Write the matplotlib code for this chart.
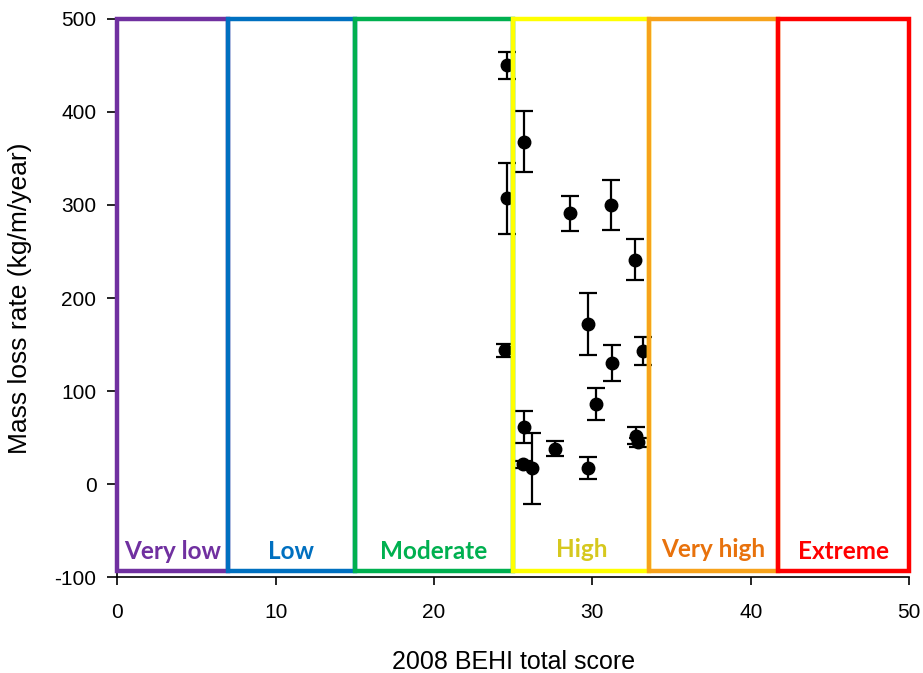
import numpy as np
import matplotlib.pyplot as plt
from matplotlib.patches import Rectangle

plt.rcParams['font.family'] = ['Liberation Sans', 'DejaVu Sans']
plt.rcParams['axes.unicode_minus'] = False

# donnees
score = [24.6, 25.7, 24.6, 28.6, 31.2, 32.7, 29.7, 24.5, 33.2, 31.25,
         30.2, 25.7, 27.65, 32.75, 32.85, 25.65, 26.2, 29.7]
perte = [450, 368, 307, 291, 300, 241, 172, 144, 143, 130,
         86, 61, 38, 52, 45, 21, 17, 17]
erreur = [15, 33, 38, 19, 27, 22, 33, 7, 15, 19,
          17, 17, 8, 9, 5, 4, 38, 12]

# classes BEHI
classes = ['Very low', 'Low', 'Moderate', 'High', 'Very high', 'Extreme']
bornes = [0, 7, 15, 25, 33.6, 41.7, 50]
couleursCadre = ['#7030A0', '#0070C0', '#00B050', '#FFFF00', '#F7A21B', '#FF0000']
couleursTexte = ['#7030A0', '#0070C0', '#00B050', '#D6C81E', '#E8720C', '#FF0000']

fig = plt.figure(figsize=(9.23, 6.73), dpi=100)
ax = fig.add_axes([0.127, 0.1426, 0.858, 0.8292])

ax.errorbar(score, perte, yerr=erreur, fmt='o', color='black', markersize=9,
            elinewidth=1.6, capsize=6.5, capthick=1.6, zorder=2)

yBas = -93
for i in range(len(classes)):
    x0 = bornes[i]
    x1 = bornes[i+1]
    ax.add_patch(Rectangle((x0, yBas), x1 - x0, 500 - yBas, fill=False,
                           edgecolor=couleursCadre[i], linewidth=3.2,
                           zorder=3, clip_on=False))
    yt = -70 if classes[i] in ['High', 'Very high'] else -73
    ax.text((x0 + x1) / 2, yt, classes[i], color=couleursTexte[i],
            fontsize=17.5, fontweight='bold', ha='center', va='center',
            family=['Lato', 'DejaVu Sans'], zorder=4)

ax.set_xlim(0, 50)
ax.set_ylim(-100, 500)
ax.set_xticks(np.arange(0, 51, 10))
ax.set_yticks(np.arange(-100, 501, 100))
ax.tick_params(labelsize=15, direction='out', width=1.2)
ax.tick_params(axis='x', length=6, pad=13)
ax.tick_params(axis='y', length=7, pad=8)
ax.spines['top'].set_visible(False)
ax.spines['right'].set_visible(False)
ax.spines['left'].set_linewidth(1.2)
ax.spines['bottom'].set_linewidth(1.2)
ax.set_xlabel('2008 BEHI total score', fontsize=18, labelpad=20)
ax.set_ylabel('Mass loss rate (kg/m/year)', fontsize=19, labelpad=16)

fig.savefig('out.png', dpi=100)
